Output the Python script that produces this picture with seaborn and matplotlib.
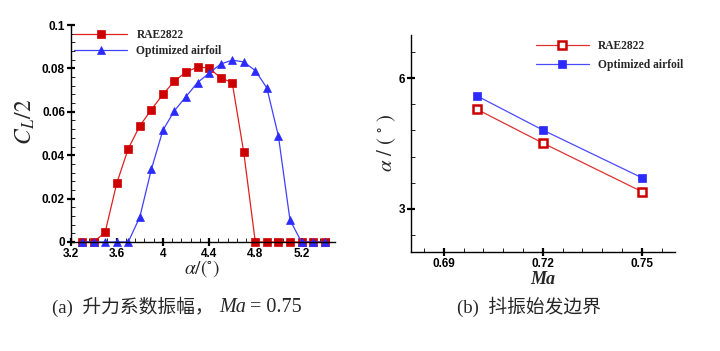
import numpy as np
import pandas as pd
import matplotlib
matplotlib.use("Agg")
import matplotlib.pyplot as plt
import seaborn as sns
from matplotlib.ticker import MultipleLocator, AutoMinorLocator, FormatStrFormatter

# ---------------- data ----------------
alpha = [3.3, 3.4, 3.5, 3.6, 3.7, 3.8, 3.9, 4.0, 4.1, 4.2, 4.3, 4.4, 4.5, 4.6, 4.7,
         4.8, 4.9, 5.0, 5.1, 5.2, 5.3, 5.4]
cl_rae = [0, 0, 0.0045, 0.027, 0.043, 0.0535, 0.061, 0.068, 0.0742, 0.0783, 0.0806,
          0.0802, 0.0756, 0.0735, 0.0413, 0, 0, 0, 0, 0, 0, 0]
cl_opt = [0, 0, 0, 0, 0, 0.0115, 0.0335, 0.0515, 0.0605, 0.067, 0.0735, 0.0778,
          0.082, 0.0838, 0.083, 0.079, 0.071, 0.0488, 0.0102, 0, 0, 0]

mach = [0.70, 0.72, 0.75]
onset_rae = [5.29, 4.51, 3.39]
onset_opt = [5.60, 4.81, 3.71]

series_names = ["RAE2822", "Optimized airfoil"]
caption_a = ["(a)  升力系数振幅，", "Ma", "= 0.75"]
caption_b = "(b)  抖振始发边界"

# ---------------- style ----------------
sns.set_theme(style="white")
plt.rcParams["font.family"] = ["Liberation Sans", "DejaVu Sans"]
plt.rcParams["mathtext.fontset"] = "stix"

RED = "#d40000"
BLUE = "#2b2bff"

fig = plt.figure(figsize=(7.2, 3.51), dpi=100)
W, H = 720.0, 351.0

def add_ax(l, r, t, b):
    return fig.add_axes([l / W, (H - b) / H, (r - l) / W, (b - t) / H])

ax1 = add_ax(70.5, 335, 25, 242)
ax2 = add_ax(410.7, 675, 35, 252)

df1 = pd.DataFrame({"alpha": alpha, "rae": cl_rae, "opt": cl_opt})
sns.lineplot(data=df1, x="alpha", y="rae", ax=ax1, color="#e02020", lw=0.9,
             marker="s", markersize=5.8, markeredgewidth=0.5, markeredgecolor=RED,
             markerfacecolor="#cc0000", label=series_names[0], clip_on=False)
sns.lineplot(data=df1, x="alpha", y="opt", ax=ax1, color="#4040ff", lw=0.9,
             marker="^", markersize=6, markeredgewidth=0.5, markeredgecolor=BLUE,
             markerfacecolor=BLUE, label=series_names[1], clip_on=False)

df2 = pd.DataFrame({"Ma": mach, "rae": onset_rae, "opt": onset_opt})
sns.lineplot(data=df2, x="Ma", y="rae", ax=ax2, color="#e03030", lw=0.9,
             marker="s", markersize=5.5, markeredgewidth=1.8, markeredgecolor="#cc0000",
             markerfacecolor="white", label=series_names[0])
sns.lineplot(data=df2, x="Ma", y="opt", ax=ax2, color="#4a4aff", lw=0.9,
             marker="s", markersize=5.5, markeredgewidth=0.5, markeredgecolor=BLUE,
             markerfacecolor=BLUE, label=series_names[1])

# axes formatting
for ax in (ax1, ax2):
    for s in ("top", "right"):
        ax.spines[s].set_visible(False)
    for s in ("left", "bottom"):
        ax.spines[s].set_color("black")
        ax.spines[s].set_linewidth(1.0)
    ax.tick_params(which="major", direction="inout", length=6, width=1.6, colors="black",
                   labelsize=8.5, pad=1, left=True, bottom=True)
    ax.tick_params(which="minor", direction="in", length=3, width=0.6, colors="black",
                   left=True, bottom=True)

ax1.set_xlim(3.2, 5.49)
ax1.set_ylim(0, 0.1)
ax1.xaxis.set_major_locator(MultipleLocator(0.4))
ax1.xaxis.set_minor_locator(AutoMinorLocator(5))
ax1.yaxis.set_major_locator(MultipleLocator(0.02))
ax1.yaxis.set_minor_locator(AutoMinorLocator(5))
ax1.xaxis.set_major_formatter(FormatStrFormatter("%g"))
ax1.yaxis.set_major_formatter(FormatStrFormatter("%g"))

ax2.set_xlim(0.68, 0.76)
ax2.set_ylim(2, 7)
ax2.set_xticks([0.69, 0.72, 0.75])
ax2.xaxis.set_minor_locator(MultipleLocator(0.006))
ax2.set_yticks([3, 6])
ax2.yaxis.set_minor_locator(MultipleLocator(0.6))
ax2.xaxis.set_major_formatter(FormatStrFormatter("%g"))
ax2.yaxis.set_major_formatter(FormatStrFormatter("%g"))

for ax in (ax1, ax2):
    for lab in ax.get_xticklabels() + ax.get_yticklabels():
        lab.set_fontweight("bold")

# labels
ax1.set_xlabel(r"$\alpha/(^{\circ})$", fontsize=14)
ax1.xaxis.set_label_coords((202 - 70.5) / 264.5, (242 - 269) / 217.0)
ax1.set_ylabel(r"$\mathbf{\mathit{C}}_{\mathit{L}}\mathit{/2}$", fontsize=17)
ax1.yaxis.set_label_coords((25 - 70.5) / 264.5, (242 - 122) / 217.0)
ax2.set_xlabel("Ma", fontsize=13, fontstyle="italic", fontweight="bold",
               family="Liberation Serif")
ax2.xaxis.set_label_coords((543 - 410.7) / 264.3, (252 - 279) / 217.0)
ax2.set_ylabel(r"$\alpha\ /\ (\ ^{\circ}\ )$", fontsize=15)
ax2.yaxis.set_label_coords((387 - 410.7) / 264.3, (252 - 143) / 217.0)
for lab in (ax1.xaxis.label, ax1.yaxis.label, ax2.xaxis.label, ax2.yaxis.label):
    lab.set_va("center")
    lab.set_ha("center")

leg_font = {"family": "Liberation Serif", "weight": "bold", "size": 8.3}
for ax, anchor, sp in ((ax1, (0.014, 0.982), 0.35), (ax2, (0.474, 0.975), 0.55)):
    ax.legend(loc="upper left", bbox_to_anchor=anchor, frameon=False, prop=leg_font,
              handlelength=4.6, handletextpad=0.8, labelspacing=sp,
              borderpad=0, borderaxespad=0)

# captions
cap_font = ["Liberation Serif", "Noto Sans CJK SC"]
y = 1 - 307.0 / H
fig.text(52 / W, y, caption_a[0], fontsize=13.5, family=cap_font, va="center", ha="left")
t_ma = fig.text(219 / W, y, caption_a[1], fontsize=14.5, family="Liberation Serif",
                fontstyle="italic", va="center", ha="left")
fig.canvas.draw()
bb = t_ma.get_window_extent(fig.canvas.get_renderer())
fig.text((bb.x1 + 4) / W, y, caption_a[2], fontsize=14.5, family="Liberation Serif",
         va="center", ha="left")
fig.text(457 / W, y, caption_b, fontsize=13.5, family=cap_font, va="center", ha="left")

fig.savefig("out.png", dpi=100)
